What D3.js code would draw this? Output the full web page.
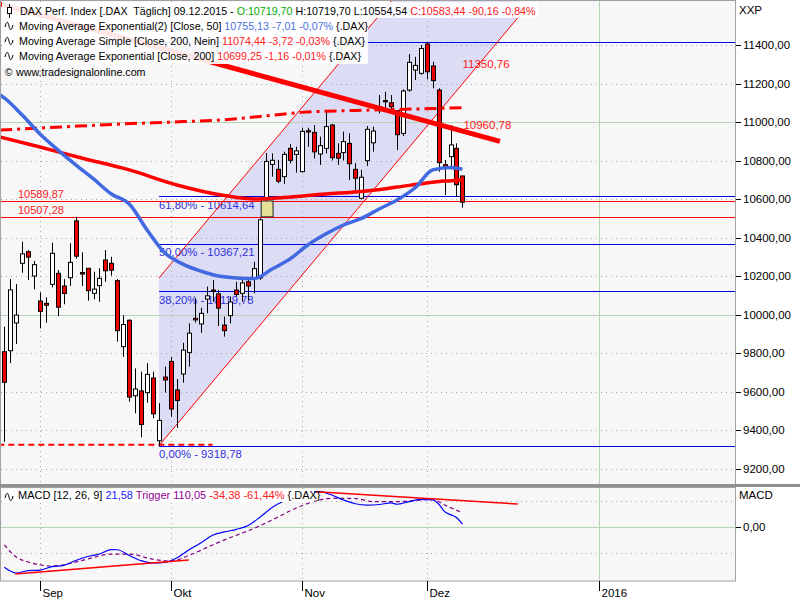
<!DOCTYPE html>
<html><head><meta charset="utf-8">
<script src="https://cdn.jsdelivr.net/npm/d3@7"></script>
<style>body{margin:0;background:#fff}svg{display:block}text{font-family:"Liberation Sans",Arial,sans-serif}</style>
</head><body><svg id="c" width="800" height="600"></svg>
<script>
// ---------------- DATA ----------------
const dates = ["24.08","25.08","26.08","27.08","28.08","31.08",
"01.09","02.09","03.09","04.09","07.09","08.09","09.09","10.09","11.09","14.09","15.09","16.09","17.09","18.09","21.09","22.09","23.09","24.09","25.09","28.09","29.09","30.09",
"01.10","02.10","05.10","06.10","07.10","08.10","09.10","12.10","13.10","14.10","15.10","16.10","19.10","20.10","21.10","22.10","23.10","26.10","27.10","28.10","29.10","30.10",
"02.11","03.11","04.11","05.11","06.11","09.11","10.11","11.11","12.11","13.11","16.11","17.11","18.11","19.11","20.11","23.11","24.11","25.11","26.11","27.11","30.11",
"01.12","02.12","03.12","04.12","07.12","08.12","09.12"];
const opens  = [9807,9812,9956,10266,10326,10200,10070,10058,10157,10214,10148,10191,10486,10218,10240,10110,10150,10283,10266,10176,9833,9970,9578,9603,9594,9670,9344,9675,
9756,9608,9691,9803,9980,9951,10080,10127,10107,9945,9994,10127,10110,10170,10188,10190,10600,10780,10754,10716,10863,10832,
10742,10955,10946,10834,10863,10984,10837,10841,10889,10754,10604,10799,10892,11065,11111,11100,11059,10941,11166,11270,11253,
11405,11291,11166,10778,10820,10863,10719.70];
const highs  = [9937,10184,10158,10378,10335,10278,10115,10089,10373,10231,10184,10370,10507.28,10323,10242,10222,10240,10335,10300,10184,9996,9975,9720,9703,9747,9703,9539,9729,
9779,9665,9853,9954,10085,10035,10145,10179,10127,9989,10093,10170,10188,10188,10274,10500,10839,10837,10803,10846,10886,10872,
10970,10970,10984,10924,11054,10990,10889,10950,10941,10786,10751,10979,10976,11140,11157,11140,11062,11170,11353,11339,11400,
11415.64,11313,11175,10803,10984,10889,10719.70];
const lows   = [9338,9748,9847,10217,10179,10131,9928,9957,10141,9992,10053,10148,10290,10148,10072,10079,10066,10170,10202,9859,9781,9547,9487,9362,9542,9461,9318.78,9594,
9469,9410,9646,9729,9958,9905,10006,10066,9940,9885,9954,10093,10066,10075,10110,10180,10589.87,10716,10682,10678,10785,10737,
10738,10872,10811,10777,10837,10800,10777,10800,10699,10647,10598,10771,10846,11045,11053,11053,10855,10927,11157,11218,11245,
11222,11175,10742,10621,10754,10612,10554.54];
const closes = [9648,10128,9997,10315,10298,10259,10016,10048,10318,10038,10109,10271,10303,10210,10124,10132,10188,10227,10230,9916,9948,9571,9613,9428,9689,9484,9450,9660,
9509,9553,9815,9903,9972,10006,10097,10120,10033,9916,10065,10104,10164,10148,10238,10492,10795,10801,10692,10832,10801,10850,
10951,10948,10845,10877,10976,10815,10812,10898,10783,10708,10713,10962,10953,11080,11105,11079,10934,11161,11310,11294,11382,
11261,11215,10789,10768,10881,10674,10583.44];

// Moving Average Exponential 50 (blue), read at bar indices
const ema50Idx = [-0.7,0,3,6,9,12,15,18,21,24,27,30,33,36,39,42,45,48,51,54,57,60,63,66,69,72,75,77];
const ema50Val = [11140,11125,11036,10938,10855,10777,10704,10626,10574,10439,10319,10262,10226,10200,10190,10187,10236,10288,10361,10418,10465,10499,10548,10595,10657,10751,10764,10755.13];
// Moving Average Simple 200 (red dash-dot)
const sma200Idx = [-0.7,10,20,30,37,45,50,59,66,72,77];
const sma200Val = [10958,10975,10990,11002,11012,11035,11050,11060,11065,11070,11074.44];
// Moving Average Exponential 200 (red)
const ema200Idx = [-0.7,6,13,21,29,37,42,47,54,60,66,71,74,77];
const ema200Val = [10922,10870,10813,10751,10673,10618,10600,10608,10626,10639,10662,10683,10693,10699.25];

// MACD (blue) and Trigger (purple dashed)
const macdIdx = [0,2,4,6,8,10,12,14,16,18,19,21,23,25,27,29,31,33,35,37,39,41,43,45,47,49,51,53,55,57,59,61,63,65,66,68,70,72,73,74,75,76,77];
const macdVal = [-310,-354,-335,-331,-305,-295,-258,-227,-208,-174,-175,-219,-259,-277,-273,-238,-177,-123,-64,-38,-18,12,77,150,200,233,262,272,246,208,179,169,173,185,175,195,212,208,177,118,95,73,21.58];
const trigIdx = [0,2,4,6,8,11,14,18,21,25,28,31,35,38,42,45,49,52,55,59,62,66,69,72,74,77];
const trigVal = [-138,-231,-269,-292,-300,-281,-246,-208,-208,-248,-262,-219,-138,-81,-10,54,144,196,221,219,195,195,204,213,169,110.05];

// Fibonacci retracement
const fibStartIdx = 26;
const fibPct   = ["0,00%","38,20%","50,00%","61,80%","100,00%"];
const fibValue = [9318.78,10119.78,10367.21,10614.64,11415.64];
// Horizontal red lines
const redLevels = [10589.87,10507.28];
const lowLine = {fromIdx:-1, toIdx:35, value:9318.78};
// Trend channel (thin red) and downtrend line (thick red)
const chanIdx = [26,86.7];
const chanLower = [9318.78,11556];
const chanUpper = [10190,12427];
const trendIdx = [-0.72,83.3];
const trendVal = [11613,10899];
const lineLabelText = ["11350,76","10960,78"];
const lineLabelVal = [11350.76,10960.78];
// MACD trend lines
const macdLoIdx = [1.85,31], macdLoVal = [-362,-254];
const macdHiIdx = [52.4,86.3], macdHiVal = [272,177];

// Axis ticks
const yTicks = [9200,9400,9600,9800,10000,10200,10400,10600,10800,11000,11200,11400];
const monthIdx = [6,28,50,71,100];
const monthLabels = ["Sep","Okt","Nov","Dez","2016"];

// ---------------- LAYOUT ----------------
const PL=1, PR=735, PT=1, PB=484, MT=488, MB=581;
const svg = d3.select("#c");
const x = d3.scaleLinear().domain([0,100]).range([4.3,599.3]);
const y = d3.scaleLinear().domain([9200,11400]).range([468.5,45]);
const ym = d3.scaleLinear().domain([-200,200]).range([553,501]);
const fmt = v => d3.format(".2f")(v).replace(".",",");
const lastIdx = dates.length-1;

svg.append("rect").attr("width",800).attr("height",600).attr("fill","#ffffff");
svg.append("rect").attr("x",PL).attr("y",PT).attr("width",PR-PL).attr("height",PB-PT).attr("fill","#f7f7f7");
svg.append("rect").attr("x",PL).attr("y",MT).attr("width",PR-PL).attr("height",MB-MT).attr("fill","#f7f7f7");
const defs = svg.append("defs");
defs.append("clipPath").attr("id","cm").append("rect").attr("x",PL).attr("y",PT).attr("width",PR-PL).attr("height",PB-PT);
defs.append("clipPath").attr("id","cd").append("rect").attr("x",PL).attr("y",MT).attr("width",PR-PL).attr("height",MB-MT);
const gm = svg.append("g").attr("clip-path","url(#cm)");
const gd = svg.append("g").attr("clip-path","url(#cd)");

// channel shading
const poly = [[x(chanIdx[0]),y(chanLower[0])],[x(chanIdx[1]),y(chanLower[1])],[x(chanIdx[1]),y(chanUpper[1])],[x(chanIdx[0]),y(chanUpper[0])]];
gm.append("path").attr("d","M"+poly.join("L")+"Z").attr("fill","#dcdcf4");

// grid
yTicks.forEach(v=>{
  const solid = v%1000===0;
  gm.append("line").attr("x1",PL).attr("x2",PR).attr("y1",Math.round(y(v))+0.5).attr("y2",Math.round(y(v))+0.5)
    .attr("stroke",solid?"#b6d3b6":"#a8a8a8").attr("stroke-dasharray",solid?null:"1,4");
});
monthIdx.forEach((m,k)=>{
  const solid = k===monthIdx.length-1;
  [[PT,PB,gm],[MT,MB,gd]].forEach(([a,b,g])=>{
    g.append("line").attr("x1",Math.round(x(m))+0.5).attr("x2",Math.round(x(m))+0.5).attr("y1",a).attr("y2",b)
      .attr("stroke",solid?"#b6d3b6":"#a8a8a8").attr("stroke-dasharray",solid?null:"1,4");
  });
});
[-200,200].forEach(v=>gd.append("line").attr("x1",PL).attr("x2",PR).attr("y1",Math.round(ym(v))+0.5).attr("y2",Math.round(ym(v))+0.5).attr("stroke","#a8a8a8").attr("stroke-dasharray","1,4"));
gd.append("line").attr("x1",PL).attr("x2",PR).attr("y1",Math.round(ym(0))+0.5).attr("y2",Math.round(ym(0))+0.5).attr("stroke","#b6d3b6");

// fib lines
fibValue.forEach((v,k)=>{
  gm.append("line").attr("x1",x(fibStartIdx)).attr("x2",PR).attr("y1",Math.round(y(v))+0.5).attr("y2",Math.round(y(v))+0.5).attr("stroke","#0000e0").attr("stroke-width",1.2);
  gm.append("text").attr("x",x(fibStartIdx)).attr("y",y(v)+12.5).attr("fill","#3030e0").attr("font-size",11.3).text(fibPct[k]+" - "+fmt(v));
});
// red levels
redLevels.forEach(v=>{
  gm.append("line").attr("x1",PL).attr("x2",PR).attr("y1",Math.round(y(v))+0.5).attr("y2",Math.round(y(v))+0.5).attr("stroke","#ff0000").attr("stroke-width",1.2);
  gm.append("text").attr("x",18).attr("y",y(v)-3).attr("fill","#ff2020").attr("font-size",11).text(fmt(v));
});
gm.append("line").attr("x1",x(lowLine.fromIdx)).attr("x2",x(lowLine.toIdx)).attr("y1",y(lowLine.value)-1).attr("y2",y(lowLine.value)-1)
  .attr("stroke","#ff0000").attr("stroke-width",2).attr("stroke-dasharray","6,4");

// channel lines
[chanLower,chanUpper].forEach(c=>gm.append("line").attr("x1",x(chanIdx[0])).attr("y1",y(c[0])).attr("x2",x(chanIdx[1])).attr("y2",y(c[1])).attr("stroke","#ff0000").attr("stroke-width",1));

// gap box
gm.append("rect").attr("x",x(43)+1).attr("width",x(45)-x(43)).attr("y",y(redLevels[0])).attr("height",y(redLevels[1])-y(redLevels[0]))
  .attr("fill","#e6e29a").attr("stroke","#202020").attr("stroke-width",1);

// candles
const bw = 4;
dates.forEach((d,i)=>{
  const cx = Math.round(x(i))+0.5;
  const o=opens[i], c=closes[i];
  gm.append("line").attr("x1",cx).attr("x2",cx).attr("y1",y(highs[i])).attr("y2",y(lows[i])).attr("stroke","#000").attr("stroke-width",1);
  const top = y(Math.max(o,c)), bot = y(Math.min(o,c));
  gm.append("rect").attr("x",cx-bw/2).attr("y",top).attr("width",bw).attr("height",Math.max(1,bot-top))
    .attr("fill",c>=o?"#ffffff":"#ee0000").attr("stroke","#000").attr("stroke-width",1);
});

// moving averages
const lineGen = (xi,yv,sy)=>d3.line().curve(d3.curveMonotoneX).x((d,k)=>x(xi[k])).y(d=>sy(d))(yv);
gm.append("path").attr("d",lineGen(sma200Idx,sma200Val,y)).attr("fill","none").attr("stroke","#ff0000").attr("stroke-width",3).attr("stroke-dasharray","12,5,3,5");
gm.append("path").attr("d",lineGen(ema200Idx,ema200Val,y)).attr("fill","none").attr("stroke","#ff0000").attr("stroke-width",3.5);
gm.append("path").attr("d",lineGen(ema50Idx,ema50Val,y)).attr("fill","none").attr("stroke","#4169e1").attr("stroke-width",3.5);
gm.append("line").attr("x1",x(trendIdx[0])).attr("y1",y(trendVal[0])).attr("x2",x(trendIdx[1])).attr("y2",y(trendVal[1])).attr("stroke","#ff0000").attr("stroke-width",5);
// value labels at the last bar: channel label below its level, trend label above the line
gm.append("text").attr("x",x(lastIdx)).attr("y",y(lineLabelVal[0])+13.5).attr("fill","#ff2020").attr("font-size",11.5).text(lineLabelText[0]);
gm.append("text").attr("x",x(lastIdx)+1).attr("y",y(lineLabelVal[1])-1).attr("fill","#ff2020").attr("font-size",11.5).text(lineLabelText[1]);

// MACD
gd.append("path").attr("d",lineGen(trigIdx,trigVal,ym)).attr("fill","none").attr("stroke","#800080").attr("stroke-width",1.2).attr("stroke-dasharray","4,3");
gd.append("path").attr("d",lineGen(macdIdx,macdVal,ym)).attr("fill","none").attr("stroke","#0000ff").attr("stroke-width",1.2);
gd.append("line").attr("x1",x(macdLoIdx[0])).attr("y1",ym(macdLoVal[0])).attr("x2",x(macdLoIdx[1])).attr("y2",ym(macdLoVal[1])).attr("stroke","#ff0000").attr("stroke-width",1.5);
gd.append("line").attr("x1",x(macdHiIdx[0])).attr("y1",ym(macdHiVal[0])).attr("x2",x(macdHiIdx[1])).attr("y2",ym(macdHiVal[1])).attr("stroke","#ff0000").attr("stroke-width",1.5);

// frames
svg.append("rect").attr("x",0.5).attr("y",0.5).attr("width",PR).attr("height",PB).attr("fill","none").attr("stroke","#a0a0a0");
svg.append("rect").attr("x",0.5).attr("y",MT-0.5).attr("width",PR).attr("height",MB-MT+0.5).attr("fill","none").attr("stroke","#a0a0a0");
svg.append("line").attr("x1",0).attr("x2",800).attr("y1",PB+1.5).attr("y2",PB+1.5).attr("stroke","#909090").attr("stroke-width",3);

// right axis
yTicks.forEach(v=>{
  svg.append("line").attr("x1",PR+1).attr("x2",PR+6).attr("y1",Math.round(y(v))+0.5).attr("y2",Math.round(y(v))+0.5).attr("stroke","#000");
  svg.append("text").attr("x",PR+8).attr("y",y(v)+4).attr("font-size",11.5).attr("fill","#000").text(fmt(v));
});
svg.append("text").attr("x",PR+4).attr("y",14).attr("font-size",11.5).text("XXP");
svg.append("text").attr("x",PR+4).attr("y",MT+11).attr("font-size",11.5).text("MACD");
svg.append("line").attr("x1",PR+1).attr("x2",PR+6).attr("y1",Math.round(ym(0))+0.5).attr("y2",Math.round(ym(0))+0.5).attr("stroke","#000");
svg.append("text").attr("x",PR+8).attr("y",ym(0)+4).attr("font-size",11.5).text("0,00");

// bottom axis
monthIdx.forEach((m,k)=>{
  const xx=Math.round(x(m))+0.5;
  svg.append("line").attr("x1",xx).attr("x2",xx).attr("y1",MB).attr("y2",MB+10).attr("stroke","#000");
  svg.append("text").attr("x",xx+2).attr("y",MB+16).attr("font-size",11.5).text(monthLabels[k]);
});

// legend
const lg = svg.append("g");
lg.append("rect").attr("x",2).attr("y",2).attr("width",536).attr("height",16).attr("fill","#fff").attr("fill-opacity",0.9);
lg.append("rect").attr("x",2).attr("y",18).attr("width",366).attr("height",46).attr("fill","#fff").attr("fill-opacity",0.9);
const rows = [
  [["DAX Perf. Index [.DAX  Täglich] 09.12.2015 - ","#000"],["O:10719,70","#00a800"],[" H:10719,70 L:10554,54 ","#000"],["C:10583,44 -90,16 -0,84%","#ff2020"]],
  [["Moving Average Exponential(2) [Close, 50] ","#000"],["10755,13 -7,01 -0,07%","#4a6fe0"],[" {.DAX}","#000"]],
  [["Moving Average Simple [Close, 200, Nein] ","#000"],["11074,44 -3,72 -0,03%","#ff2020"],[" {.DAX}","#000"]],
  [["Moving Average Exponential [Close, 200] ","#000"],["10699,25 -1,16 -0,01%","#ff2020"],[" {.DAX}","#000"]],
  [["www.tradesignalonline.com","#000"]]
];
const rowY = [15,30,45,60,76];
const rowX = [20,19,19,19,16];
rows.forEach((r,k)=>{
  const t = lg.append("text").attr("x",rowX[k]).attr("y",rowY[k]).attr("font-size",10.7).attr("xml:space","preserve");
  r.forEach(([s,c])=>t.append("tspan").attr("fill",c).text(s));
});
// icons
lg.append("line").attr("x1",9.5).attr("x2",9.5).attr("y1",4).attr("y2",18).attr("stroke","#000");
lg.append("rect").attr("x",7.5).attr("y",7.5).attr("width",4).attr("height",6).attr("fill","#fff").attr("stroke","#000");
const wave = "c1.5,-6 3,-6 4,-1 c1,5 2.5,5 4,-1";
[1,2,3].forEach(k=>lg.append("path").attr("d",`M5,${rowY[k]-3}`+wave).attr("fill","none").attr("stroke","#000"));
lg.append("text").attr("x",5).attr("y",76).attr("font-size",10).text("©");
// MACD legend
svg.append("rect").attr("x",2).attr("y",MT+1).attr("width",312).attr("height",13).attr("fill","#fff");
svg.append("path").attr("d",`M5,${MT+10}`+wave).attr("fill","none").attr("stroke","#000");
const mt = svg.append("text").attr("x",18).attr("y",MT+11).attr("font-size",11).attr("xml:space","preserve");
[["MACD [12, 26, 9] ","#000"],["21,58","#2020ff"],[" Trigger 110,05 ","#900090"],["-34,38 -61,44%","#ff2020"],[" {.DAX}","#000"]].forEach(([s,c])=>mt.append("tspan").attr("fill",c).text(s));
</script></body></html>
